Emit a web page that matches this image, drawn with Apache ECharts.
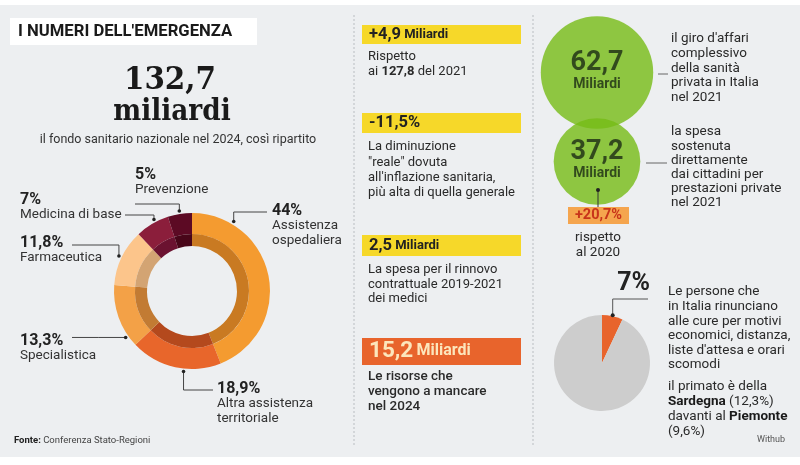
<!DOCTYPE html>
<html>
<head>
<meta charset="utf-8">
<script src="https://cdn.jsdelivr.net/npm/echarts@6/dist/echarts.min.js"></script>
<style>
html,body{margin:0;padding:0;background:#fff;}
#c{width:800px;height:465px;}
</style>
</head>
<body>
<div id="c"></div>
<script>
// ---------- DATA ----------
const fondoTotale = 132.7;
const donutCategories = ['Assistenza\nospedaliera', 'Altra assistenza\nterritoriale', 'Specialistica', 'Farmaceutica', 'Medicina di base', 'Prevenzione'];
const donutValues = [44, 18.9, 13.3, 11.8, 7, 5];

const keyFigures = ['+4,9', '-11,5%', '2,5', '15,2'];
const keyUnits = ['Miliardi', '', 'Miliardi', 'Miliardi'];

const privateCategories = ["giro d'affari", 'spesa diretta'];
const privateValues = [62.7, 37.2];
const privateChange = '+20,7%';

const rinunciaCategories = ['rinunciano', 'altri'];
const rinunciaValues = [7, 93];

// ---------- STYLE / LAYOUT ----------
const FF = 'Roboto, "Liberation Sans", sans-serif';
const TXT = '#2a2a2a';
const outerColors = ['#F49B30', '#E8662B', '#F3A147', '#FCC58B', '#8B1E3B', '#5C0A24'];
const innerColors = ['#C97A22', '#B4491D', '#C27B33', '#D3A473', '#6B1230', '#480619'];
const donutCenter = [192, 291];
const donutR = [57, 78];
const donutInnerR = [45, 57];
const anchorR = 81;
// label block top-left, optional anchor angle override, elbow y, end x
const donutLayout = [
  {lx: 272, ly: 203, ang: 31, lineY: 212, endX: 267},
  {lx: 217, ly: 381, ang: 186, lineY: 390, endX: 213},
  {lx: 20, ly: 333, ang: 235, lineY: null, endX: 72},
  {lx: 20, ly: 235, ang: null, lineY: 245, endX: 72},
  {lx: 20, ly: 192, ang: 332, lineY: 215, endX: 125},
  {lx: 135, ly: 167, ang: null, lineY: 204, endX: 135}
];
const pieCenter = [602, 363];
const pieR = 48;

function fmt(v) { return (Number.isInteger(v) ? String(v) : v.toFixed(1).replace('.', ',')); }

const total = donutValues.reduce((a, b) => a + b, 0);
let cum = 0;
const anchors = donutValues.map((v, i) => {
  const mid = (cum + v / 2) / total * 360; cum += v;
  const ang = donutLayout[i].ang != null ? donutLayout[i].ang : mid;
  const r = ang * Math.PI / 180;
  return [donutCenter[0] + anchorR * Math.sin(r), donutCenter[1] - anchorR * Math.cos(r)];
});
const pieTotal = rinunciaValues.reduce((a, b) => a + b, 0);
const pieMid = rinunciaValues[0] / 2 / pieTotal * 2 * Math.PI;
const pieAnchor = [pieCenter[0] + (pieR + 1) * Math.sin(pieMid), pieCenter[1] - (pieR + 1) * Math.cos(pieMid)];

// ---------- GRAPHIC HELPERS ----------
function T(x, y, text, o) {
  o = o || {};
  return {
    type: 'text', z: 10, x: x, y: y, scaleX: o.sx || 1, originX: 0,
    style: {
      text: text, x: 0, y: 0, fill: o.fill || TXT,
      font: (o.w || 'normal') + ' ' + (o.s || 13) + 'px ' + (o.f || FF),
      textAlign: o.align || 'left', textVerticalAlign: 'middle', rich: o.rich
    }
  };
}
function R(x, y, w, h, fill, z) { return {type: 'rect', z: z || 1, shape: {x: x, y: y, width: w, height: h}, style: {fill: fill}}; }
function Ln(x1, y1, x2, y2, o) {
  o = o || {};
  return {type: 'line', z: 5, shape: {x1: x1, y1: y1, x2: x2, y2: y2}, style: {stroke: o.c || '#555', lineWidth: 1, lineDash: o.dash || null}};
}
function Dot(x, y, r) { return {type: 'circle', z: 12, shape: {cx: x, cy: y, r: r || 2}, style: {fill: '#222'}}; }

const MS = 13;   // middle column body size
const RS = 13.5; // right column body size
const g = [];
g.push(R(0, 5, 800, 452, '#EDEFF1', 0));
g.push(Ln(354, 15, 354, 447, {c: '#B9BDC1', dash: [2, 2]}));
g.push(Ln(533, 15, 533, 447, {c: '#B9BDC1', dash: [2, 2]}));
// title
g.push(R(10, 18, 247, 27, '#ffffff', 2));
g.push(T(18, 32, "I NUMERI DELL'EMERGENZA", {w: 'bold', s: 17, fill: '#1a1a1a', sx: 0.98}));
// big number
g.push(T(170, 81, fmt(fondoTotale), {w: 'bold', s: 31, f: '"DejaVu Serif", serif', fill: '#1a1a1a', align: 'center', sx: 0.95}));
g.push(T(172, 112, 'miliardi', {w: 'bold', s: 30, f: '"DejaVu Serif", serif', fill: '#1a1a1a', align: 'center', sx: 0.88}));
g.push(T(178, 140, 'il fondo sanitario nazionale nel 2024, così ripartito', {s: 12.5, fill: '#333', align: 'center'}));
g.push(T(14, 441, '{b|Fonte:} Conferenza Stato-Regioni', {s: 9.5, fill: '#444', rich: {b: {fontWeight: 'bold', fontSize: 9.5, fontFamily: FF, fill: '#222'}}}));
anchors.forEach(a => g.push(Dot(a[0], a[1], 1.8)));

// middle column
const boxX = 362, boxW = 159;
function figRich(fill, vs, us) {
  return {
    v: {fontWeight: 'bold', fontSize: vs, fontFamily: FF, fill: fill},
    u: {fontWeight: 'bold', fontSize: us, fontFamily: FF, fill: fill}
  };
}
g.push(R(boxX, 25, boxW, 19, '#F6D829', 2));
g.push(T(369, 35, '{v|' + keyFigures[0] + '} {u|' + keyUnits[0] + '}', {rich: figRich('#222', 16.5, 13)}));
g.push(T(368, 57, 'Rispetto', {s: MS}));
g.push(T(368, 72, '{n|ai }{b|127,8}{n| del 2021}', {s: MS, rich: {n: {fontSize: MS, fontFamily: FF, fill: TXT}, b: {fontSize: MS, fontWeight: 'bold', fontFamily: FF, fill: TXT}}}));

g.push(R(boxX, 113, boxW, 20, '#F6D829', 2));
g.push(T(369, 123, '{v|' + keyFigures[1] + '}', {rich: figRich('#222', 16.5, 13)}));
['La diminuzione', '"reale" dovuta', "all'inflazione sanitaria,", 'più alta di quella generale'].forEach((t, i) => g.push(T(368, 147 + i * 15.3, t, {s: MS})));

g.push(R(boxX, 235, boxW, 21, '#F6D829', 2));
g.push(T(369, 246, '{v|' + keyFigures[2] + '} {u|' + keyUnits[2] + '}', {rich: figRich('#222', 16.5, 13)}));
['La spesa per il rinnovo', 'contrattuale 2019-2021', 'dei medici'].forEach((t, i) => g.push(T(368, 270 + i * 14.3, t, {s: MS})));

g.push(R(boxX, 338, boxW, 27, '#E8642C', 2));
g.push(T(369, 351, '{v|' + keyFigures[3] + '} {u|' + keyUnits[3] + '}', {rich: figRich('#FCE6BC', 22.5, 16)}));
['Le risorse che', 'vengono a mancare', 'nel 2024'].forEach((t, i) => g.push(T(368, 377 + i * 15, t, {s: 13.5, w: 500, fill: '#2a2a2a'})));

// right column text
["il giro d'affari", 'complessivo', 'della sanità', 'privata in Italia', 'nel 2021'].forEach((t, i) => g.push(T(671, 39 + i * 14.7, t, {s: RS})));
['la spesa', 'sostenuta', 'direttamente', 'dai cittadini per', 'prestazioni private', 'nel 2021'].forEach((t, i) => g.push(T(671, 132 + i * 14.2, t, {s: RS})));
g.push(Ln(658, 74, 668, 74, {c: '#666'}));
g.push(Ln(646, 163, 667, 163, {c: '#666'}));
g.push(Dot(598, 190, 2));
g.push(Ln(598, 190, 598, 207, {c: '#333'}));
g.push(R(568, 207, 61, 17, '#F5A54E', 2));
g.push(T(598.5, 215.5, privateChange, {s: 14.5, w: 'bold', fill: '#C8341A', align: 'center'}));
g.push(T(598, 238, 'rispetto', {s: RS, align: 'center'}));
g.push(T(598, 253, 'al 2020', {s: RS, align: 'center'}));

['Le persone che', 'in Italia rinunciano', 'alle cure per motivi', 'economici, distanza,', "liste d'attesa e orari", 'scomodi'].forEach((t, i) => g.push(T(668, 292 + i * 14.6, t, {s: RS})));
const bR = {n: {fontSize: RS, fontFamily: FF, fill: TXT}, b: {fontSize: RS, fontWeight: 'bold', fontFamily: FF, fill: '#1a1a1a'}};
g.push(T(668, 387, 'il primato è della', {s: RS}));
g.push(T(668, 402, '{b|Sardegna} {n|(12,3%)}', {s: RS, rich: bR}));
g.push(T(668, 417, '{n|davanti al }{b|Piemonte}', {s: RS, rich: bR}));
g.push(T(668, 432, '(9,6%)', {s: RS}));
g.push(T(757, 440, 'Withub', {s: 9, fill: '#555'}));

// ---------- CHART ----------
const chart = echarts.init(document.getElementById('c'), null, {renderer: 'canvas'});
const donutData = donutCategories.map((n, i) => ({name: n, value: donutValues[i]}));

chart.setOption({
  backgroundColor: '#ffffff',
  animation: false,
  graphic: g,
  grid: {left: 540, top: 28, width: 114, height: 178},
  xAxis: {type: 'category', data: ['c'], show: false},
  yAxis: {type: 'category', data: privateCategories, inverse: true, show: false},
  series: [
    {
      type: 'pie', z: 3, center: donutCenter, radius: donutR, startAngle: 90, clockwise: true,
      avoidLabelOverlap: false, silent: true,
      data: donutData,
      itemStyle: {color: p => outerColors[p.dataIndex]},
      label: {
        show: true, position: 'outside',
        formatter: p => '{p|' + fmt(p.value) + '%}\n' + p.name.split('\n').map(s => '{n|' + s + '}').join('\n'),
        rich: {
          p: {fontSize: 16, fontWeight: 'bold', fontFamily: FF, color: '#222', lineHeight: 15},
          n: {fontSize: 13.5, fontFamily: FF, color: '#333', lineHeight: 15}
        }
      },
      labelLine: {show: true, length: 5, length2: 5, lineStyle: {color: '#444', width: 1}},
      labelLayout: function (p) {
        const i = p.dataIndex, L = donutLayout[i], a = anchors[i];
        const pts = L.lineY == null
          ? [[a[0], a[1]], [(a[0] + L.endX) / 2, a[1]], [L.endX, a[1]]]
          : [[a[0], a[1]], [a[0], L.lineY], [L.endX, L.lineY]];
        return {x: L.lx, y: L.ly, align: 'left', verticalAlign: 'top', labelLinePoints: pts};
      }
    },
    {
      type: 'pie', z: 3, center: donutCenter, radius: donutInnerR, startAngle: 90, clockwise: true,
      silent: true, data: donutData,
      itemStyle: {color: p => innerColors[p.dataIndex]},
      label: {show: false}, labelLine: {show: false}
    },
    {
      type: 'scatter', z: 4, silent: true,
      data: privateValues.map((v, i) => [0, i, v]),
      symbolSize: v => Math.sqrt(v[2]) * 14.2,
      itemStyle: {color: 'rgb(117,188,21)', opacity: 0.8},
      label: {
        show: true, position: 'inside',
        formatter: p => '{v|' + fmt(p.value[2]) + '}\n{u|Miliardi}',
        rich: {
          v: {fontSize: 27, fontWeight: 'bold', fontFamily: FF, color: '#1c2a14', lineHeight: 24},
          u: {fontSize: 14, fontWeight: 'bold', fontFamily: FF, color: '#1c2a14', lineHeight: 18}
        }
      }
    },
    {
      type: 'pie', z: 3, center: pieCenter, radius: [0, pieR], startAngle: 90, clockwise: true,
      silent: true, avoidLabelOverlap: false,
      data: rinunciaCategories.map((n, i) => ({name: n, value: rinunciaValues[i],
        label: {show: i === 0}, labelLine: {show: i === 0}})),
      itemStyle: {color: p => ['#E8642C', '#CDCDCD'][p.dataIndex]},
      label: {
        position: 'outside', formatter: p => fmt(p.value) + '%',
        fontSize: 25, fontWeight: 'bold', fontFamily: FF, color: '#222'
      },
      labelLine: {length: 5, length2: 5, lineStyle: {color: '#555', width: 1}},
      labelLayout: function (p) {
        const a = pieAnchor;
        return {x: 650, y: 296, align: 'right', verticalAlign: 'bottom',
          labelLinePoints: [[a[0], a[1]], [a[0], 299], [648, 299]]};
      }
    }
  ]
});
g.push(Dot(pieAnchor[0], pieAnchor[1], 2));
chart.setOption({graphic: g});
</script>
</body>
</html>
